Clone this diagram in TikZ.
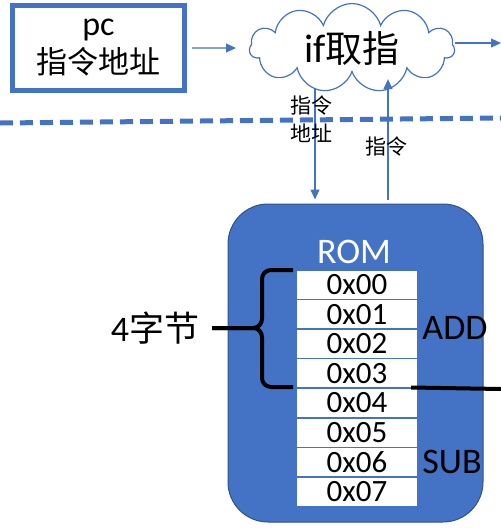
\documentclass[tikz,border=0pt]{standalone}
\usepackage{fontspec}
\setmainfont{Carlito}
\newfontfamily\cjk{Noto Sans CJK SC}
\usetikzlibrary{shapes.symbols,arrows.meta,backgrounds}
\definecolor{romblue}{HTML}{4472C4}
\definecolor{romedge}{HTML}{2F528F}
\tikzset{
  arr/.style={romblue, line width=1.2pt, -{Triangle[length=10pt,width=9pt]}},
  cell/.style={fill=white, minimum width=120pt, minimum height=28pt, inner sep=0pt,
    text height=20pt, text depth=0pt, font=\fontsize{31}{31}\selectfont},
  big/.style={font=\fontsize{36}{36}\selectfont},
  small/.style={font=\fontsize{21}{28}\selectfont\cjk, align=center},
}
\begin{document}
\begin{tikzpicture}[x=1pt,y=-1pt]
\useasboundingbox (0,0) rectangle (501,528);
% fetch stage
\node[draw=romblue, line width=5pt, minimum width=172pt, minimum height=85pt,
  align=center, font=\fontsize{34}{38}\selectfont] (pc) at (98.5,48) {pc\\{\fontsize{31}{38}\selectfont\cjk 指令地址}};
\node[cloud, cloud puffs=11, aspect=2.4, draw=romblue, line width=1.2pt, fill=white,
  minimum width=205pt, minimum height=87pt, font=\fontsize{40}{40}\selectfont]
  (fetch) at (352,48) {if{\fontsize{37}{40}\selectfont\cjk 取指}};
\coordinate (out) at (501,43);
\draw[arr, shorten <=5pt, shorten >=13pt] (pc.east) -- (fetch.west);
\draw[arr] (fetch.east |- out) -- (out);
\draw[romblue, line width=5pt, dash pattern=on 13pt off 7pt] (0,123) -- (501,118);
% rom
\node[draw=romedge, fill=romblue, rounded corners=40pt, line width=1pt,
  minimum width=255pt, minimum height=318pt] (rom) at (355.5,363) {};
\node[big, white] (romlbl) at (354,252) {ROM};
\foreach \i in {0,...,7}
  \node[cell] (c\i) at (357,284.5+29.6*\i) {0x0\i};
\coordinate (addr) at (315,0);
\coordinate (inst) at (388,0);
\begin{scope}[on background layer]
\draw[arr, shorten >=4pt] (fetch.center -| addr) -- (rom.north -| addr);
\end{scope}
\draw[arr, shorten <=4pt, shorten >=6pt] (rom.north -| inst) -- (fetch.south -| inst);
\node[small] (addrlbl) at (311,119) {指令\\地址};
\node[small] (instlbl) at (386,147) {指令};
% bytes
\node[big] (bytes) at (155,328) {4{\fontsize{35}{36}\selectfont\cjk 字节}};
\draw[line width=4pt, rounded corners=9pt] (293,270) -- (262,270) -- (262,328) -- (212,328);
\draw[line width=4pt, rounded corners=9pt] (293,387) -- (262,387) -- (262,328) -- (212,328);
\coordinate (cut) at (501,389);
\draw[line width=4pt] ([xshift=-6pt]c3.south east) -- (cut);
\node[big] (add) at (455,328) {ADD};
\node[big] (sub) at (452,462) {SUB};
\end{tikzpicture}
\end{document}
